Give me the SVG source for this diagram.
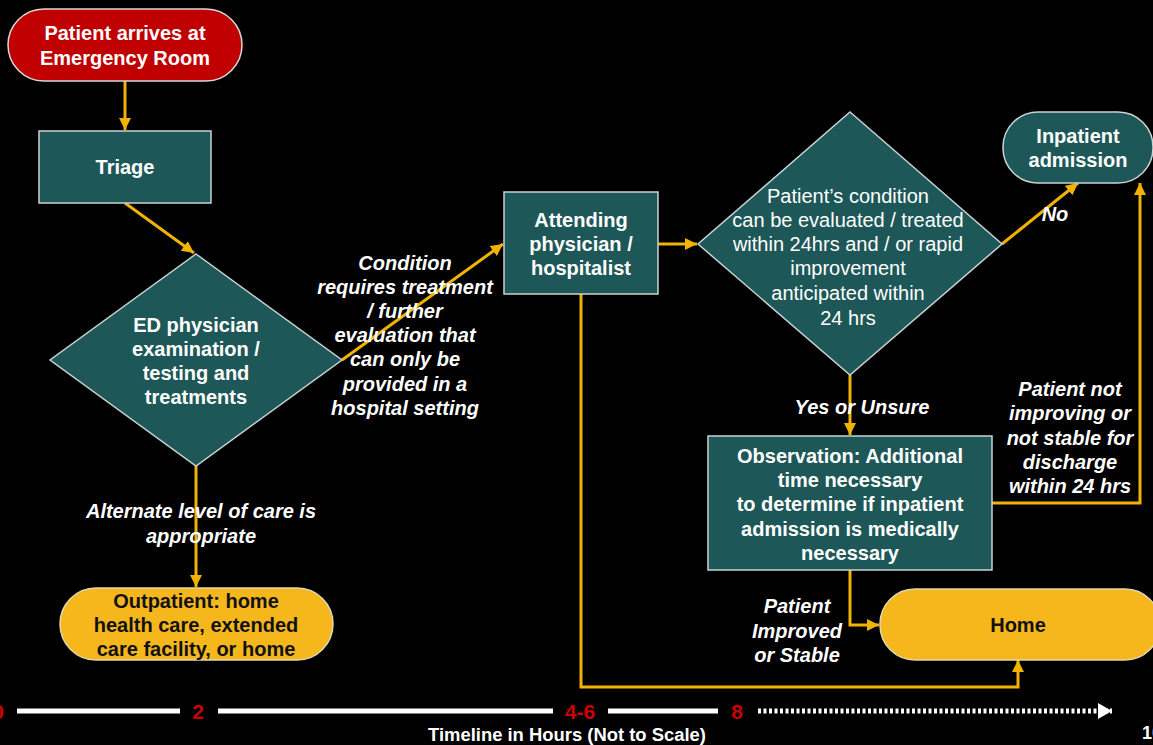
<svg xmlns="http://www.w3.org/2000/svg" width="1153" height="745" viewBox="0 0 1153 745">
<defs>
<marker id="ah" markerUnits="userSpaceOnUse" markerWidth="14" markerHeight="14" refX="12" refY="6" orient="auto">
<path d="M0,0 L12,6 L0,12 Z" fill="#f2b200"/>
</marker>
<marker id="wh" markerUnits="userSpaceOnUse" markerWidth="16" markerHeight="18" refX="14" refY="8" orient="auto">
<path d="M0,0 L14,8 L0,16 Z" fill="#ffffff"/>
</marker>
</defs>
<style>
.teal{fill:#1e5757;stroke:#c9d3d3;stroke-width:1.5}
.red{fill:#c00000;stroke:#d9d9d9;stroke-width:1.5}
.yel{fill:#f5b71b;stroke:#e0d8b0;stroke-width:1.5}
.t{font-family:"Liberation Sans",Arial,sans-serif;font-size:20px;font-weight:bold;fill:#ffffff;text-anchor:middle}
.n{font-weight:normal}
.k{fill:#111111}
.i{font-style:italic}
.c{fill:none;stroke:#f2b200;stroke-width:3}
.num{font-family:"Liberation Sans",Arial,sans-serif;font-size:21px;font-weight:bold;fill:#cc0000;text-anchor:middle}
.tl{stroke:#ffffff;stroke-width:5;fill:none}
</style>
<rect x="0" y="0" width="1153" height="745" fill="#000000"/>

<g id="connectors">
<line class="c" x1="125" y1="81" x2="125" y2="130" marker-end="url(#ah)"/>
<line class="c" x1="125" y1="203" x2="194" y2="253" marker-end="url(#ah)"/>
<line class="c" x1="196" y1="466" x2="196" y2="587" marker-end="url(#ah)"/>
<line class="c" x1="342" y1="360" x2="503" y2="244" marker-end="url(#ah)"/>
<line class="c" x1="658" y1="244" x2="697" y2="244" marker-end="url(#ah)"/>
<line class="c" x1="1002" y1="244" x2="1078" y2="183" marker-end="url(#ah)"/>
<line class="c" x1="850" y1="375" x2="850" y2="435" marker-end="url(#ah)"/>
<polyline class="c" points="992,503 1140,503 1140,183" marker-end="url(#ah)"/>
<polyline class="c" points="850,570 850,625 879,625" marker-end="url(#ah)"/>
<polyline class="c" points="581,294 581,687 1018,687 1018,660" marker-end="url(#ah)"/>
</g>

<g id="start">
<rect class="red" x="8" y="9" width="234" height="72" rx="36"/>
<text class="t" x="125" y="40">Patient arrives at</text>
<text class="t" x="125" y="65">Emergency Room</text>
</g>

<g id="triage">
<rect class="teal" x="39" y="131" width="172" height="72"/>
<text class="t" x="125" y="174">Triage</text>
</g>

<g id="ed">
<polygon class="teal" points="196,254 342,360 196,466 50,360"/>
<text class="t" x="196" y="332">ED physician</text>
<text class="t" x="196" y="356">examination /</text>
<text class="t" x="196" y="380">testing and</text>
<text class="t" x="196" y="404">treatments</text>
</g>

<g id="outpatient">
<rect class="yel" x="60" y="588" width="273" height="72" rx="36"/>
<text class="t k" x="196" y="608">Outpatient: home</text>
<text class="t k" x="196" y="632">health care, extended</text>
<text class="t k" x="196" y="656">care facility, or home</text>
</g>

<g id="attending">
<rect class="teal" x="504" y="192" width="154" height="102"/>
<text class="t" x="581" y="227">Attending</text>
<text class="t" x="581" y="251">physician /</text>
<text class="t" x="581" y="275">hospitalist</text>
</g>

<g id="decision">
<polygon class="teal" points="850,112 1002,244 850,375 698,244"/>
<text class="t n" x="848" y="203">Patient’s condition</text>
<text class="t n" x="848" y="227">can be evaluated / treated</text>
<text class="t n" x="848" y="251">within 24hrs and / or rapid</text>
<text class="t n" x="848" y="275">improvement</text>
<text class="t n" x="848" y="300">anticipated within</text>
<text class="t n" x="848" y="325">24 hrs</text>
</g>

<g id="inpatient">
<rect class="teal" x="1003" y="112" width="150" height="71" rx="35"/>
<text class="t" x="1078" y="143">Inpatient</text>
<text class="t" x="1078" y="167">admission</text>
</g>

<g id="observation">
<rect class="teal" x="708" y="436" width="284" height="134"/>
<text class="t" x="850" y="463">Observation: Additional</text>
<text class="t" x="850" y="487">time necessary</text>
<text class="t" x="850" y="511">to determine if inpatient</text>
<text class="t" x="850" y="536">admission is medically</text>
<text class="t" x="850" y="560">necessary</text>
</g>

<g id="home">
<rect class="yel" x="880" y="589" width="280" height="71" rx="35"/>
<text class="t k" x="1018" y="632">Home</text>
</g>

<g id="labels">
<text class="t i" x="201" y="518">Alternate level of care is</text>
<text class="t i" x="201" y="543">appropriate</text>
<text class="t i" x="405" y="270">Condition</text>
<text class="t i" x="405" y="294">requires treatment</text>
<text class="t i" x="405" y="318">/ further</text>
<text class="t i" x="405" y="342">evaluation that</text>
<text class="t i" x="405" y="366">can only be</text>
<text class="t i" x="405" y="391">provided in a</text>
<text class="t i" x="405" y="415">hospital setting</text>
<text class="t i" x="1055" y="221">No</text>
<text class="t i" x="862" y="414">Yes or Unsure</text>
<text class="t i" x="1070" y="396">Patient not</text>
<text class="t i" x="1070" y="420">improving or</text>
<text class="t i" x="1070" y="445">not stable for</text>
<text class="t i" x="1070" y="469">discharge</text>
<text class="t i" x="1070" y="493">within 24 hrs</text>
<text class="t i" x="797" y="613">Patient</text>
<text class="t i" x="797" y="638">Improved</text>
<text class="t i" x="797" y="662">or Stable</text>
</g>

<g id="timeline">
<line class="tl" x1="17" y1="711" x2="180" y2="711"/>
<line class="tl" x1="218" y1="711" x2="553" y2="711"/>
<line class="tl" x1="608" y1="711" x2="718" y2="711"/>
<line class="tl" x1="758" y1="711" x2="1112" y2="711" stroke-dasharray="3,2.5" marker-end="url(#wh)"/>
<text class="num" x="-2" y="719">0</text>
<text class="num" x="198" y="719">2</text>
<text class="num" x="580" y="719">4-6</text>
<text class="num" x="737" y="719">8</text>
<text class="t" x="567" y="741" style="font-size:18px" textLength="278" lengthAdjust="spacingAndGlyphs">Timeline in Hours (Not to Scale)</text>
<text x="1142" y="739" style="font-family:'Liberation Sans',Arial,sans-serif;font-size:18px;font-weight:bold;fill:#ffffff">10</text>
</g>
</svg>
